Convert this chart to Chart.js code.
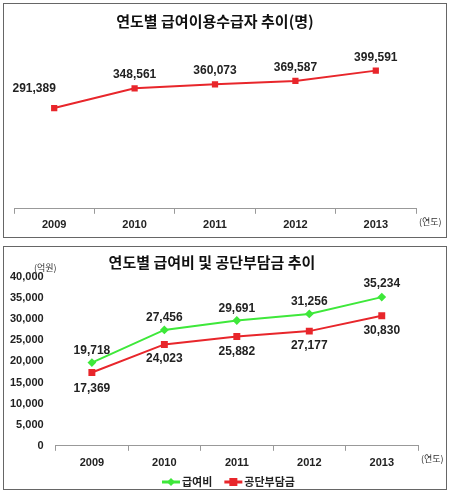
<!DOCTYPE html>
<html><head><meta charset="utf-8">
<script src="https://cdn.jsdelivr.net/npm/chart.js@4"></script>
<style>
body{margin:0;background:#fff;width:450px;height:493px;position:relative;font-family:"Noto Sans CJK KR";overflow:hidden;}
.box{position:absolute;border:1.5px solid #666;box-sizing:border-box;background:#fff;overflow:hidden;}
</style></head><body>
<div class="box" style="left:3px;top:3px;width:444px;height:235px"><canvas id="c1"></canvas></div>
<div class="box" style="left:3px;top:246px;width:444px;height:244px"><canvas id="c2"></canvas></div>
<script>
const years = ['2009','2010','2011','2012','2013'];
const recipients = [291389,348561,360073,369587,399591];
const benefits = [19718,27456,29691,31256,35234];
const publicShare = [17369,24023,25882,27177,30830];
const yTicks2 = [0,5000,10000,15000,20000,25000,30000,35000,40000];

const fmt = v => v.toLocaleString('en-US');
const labelPlugin = {
  id:'vlabels',
  afterDatasetsDraw(chart){
    const ctx = chart.ctx;
    chart.data.datasets.forEach((ds,i)=>{
      const meta = chart.getDatasetMeta(i);
      ctx.save();
      ctx.font = 'bold 12px "Liberation Sans"';
      ctx.fillStyle = '#222';
      ctx.textAlign = 'center';
      meta.data.forEach((p,j)=>{
        const off = ds.labelOffsets[j];
        ctx.fillText(fmt(ds.data[j]), p.x + off[0], p.y + off[1]);
      });
      ctx.restore();
    });
    const xa = chart.scales.x;
    ctx.save();
    ctx.font = '9px "Noto Sans CJK KR"';
    ctx.fillStyle = '#333';
    ctx.textAlign='left';
    ctx.fillText('(연도)', xa.right + 3, xa.top + 16);
    if (chart.options.unitLabel){
      ctx.fillText(chart.options.unitLabel, 30, chart.chartArea.top - 6);
    }
    if (chart.options.customLegend){
      const y = chart.height - 7;
      let x = 158;
      ctx.font = 'bold 11px "Noto Sans CJK KR"';
      ctx.textBaseline = 'middle';
      chart.data.datasets.forEach(ds=>{
        ctx.strokeStyle = ds.borderColor; ctx.fillStyle = ds.borderColor; ctx.lineWidth = 3;
        ctx.beginPath(); ctx.moveTo(x, y); ctx.lineTo(x+18, y); ctx.stroke();
        if (ds.pointStyle==='rect') ctx.fillRect(x+5,y-4,8,8);
        else { ctx.beginPath(); ctx.moveTo(x+9,y-4);ctx.lineTo(x+13,y);ctx.lineTo(x+9,y+4);ctx.lineTo(x+5,y);ctx.fill(); }
        ctx.fillStyle = '#222';
        ctx.fillText(ds.label, x+20, y);
        x += 20 + ctx.measureText(ds.label).width + 12;
      });
    }
    ctx.restore();
  }
};

new Chart(document.getElementById('c1'),{
  type:'line',
  data:{labels:years,datasets:[{data:recipients,borderColor:'#e8262b',backgroundColor:'#e8262b',
    borderWidth:2,pointStyle:'rect',pointRadius:3,
    labelOffsets:[[-20,-16],[0,-10],[0,-10],[0,-10],[0,-10]]}]},
  options:{responsive:true,maintainAspectRatio:false,animation:false,
    layout:{padding:{left:10,right:30,top:2,bottom:0}},
    plugins:{legend:{display:false},tooltip:{enabled:false},
      title:{display:true,text:'연도별 급여이용수급자 추이(명)',font:{family:'Noto Sans CJK KR',size:15,weight:'bold'},color:'#111',padding:{top:6,bottom:18}}},
    scales:{
      x:{offset:true,grid:{drawOnChartArea:false,offset:true,tickLength:5,color:'#999'},border:{color:'#999'},
        ticks:{font:{family:'Liberation Sans',size:11,weight:'bold'},color:'#222',padding:5}},
      y:{display:false,min:0,max:465000}
    }},
  plugins:[labelPlugin]
});

new Chart(document.getElementById('c2'),{
  type:'line',
  data:{labels:years,datasets:[
    {label:'급여비',data:benefits,borderColor:'#3ee83a',backgroundColor:'#3ee83a',borderWidth:2,pointStyle:'rectRot',pointRadius:3,
     labelOffsets:[[0,-9],[0,-9],[0,-9],[0,-9],[0,-10]]},
    {label:'공단부담금',data:publicShare,borderColor:'#e8262b',backgroundColor:'#e8262b',borderWidth:2,pointStyle:'rect',pointRadius:3.5,
     labelOffsets:[[0,19],[0,18],[0,18],[0,18],[0,18]]}
  ]},
  options:{responsive:true,maintainAspectRatio:false,animation:false,unitLabel:'(억원)',customLegend:true,
    layout:{padding:{left:2,right:28,top:0,bottom:13}},
    plugins:{tooltip:{enabled:false},legend:{display:false},
      title:{display:true,text:'연도별 급여비 및 공단부담금 추이',font:{family:'Noto Sans CJK KR',size:15,weight:'bold'},color:'#111',padding:{top:6,bottom:6}}},
    scales:{
      x:{offset:true,grid:{drawOnChartArea:false,offset:true,tickLength:5,color:'#999'},border:{color:'#999'},
        ticks:{font:{family:'Liberation Sans',size:11,weight:'bold'},color:'#222',padding:6}},
      y:{min:0,max:40000,afterBuildTicks(s){s.ticks=yTicks2.map(v=>({value:v}));},
        grid:{display:false},border:{display:false},
        ticks:{callback:v=>fmt(v),font:{family:'Liberation Sans',size:11,weight:'bold'},color:'#222',padding:4}}
    }},
  plugins:[labelPlugin]
});
</script></body></html>
